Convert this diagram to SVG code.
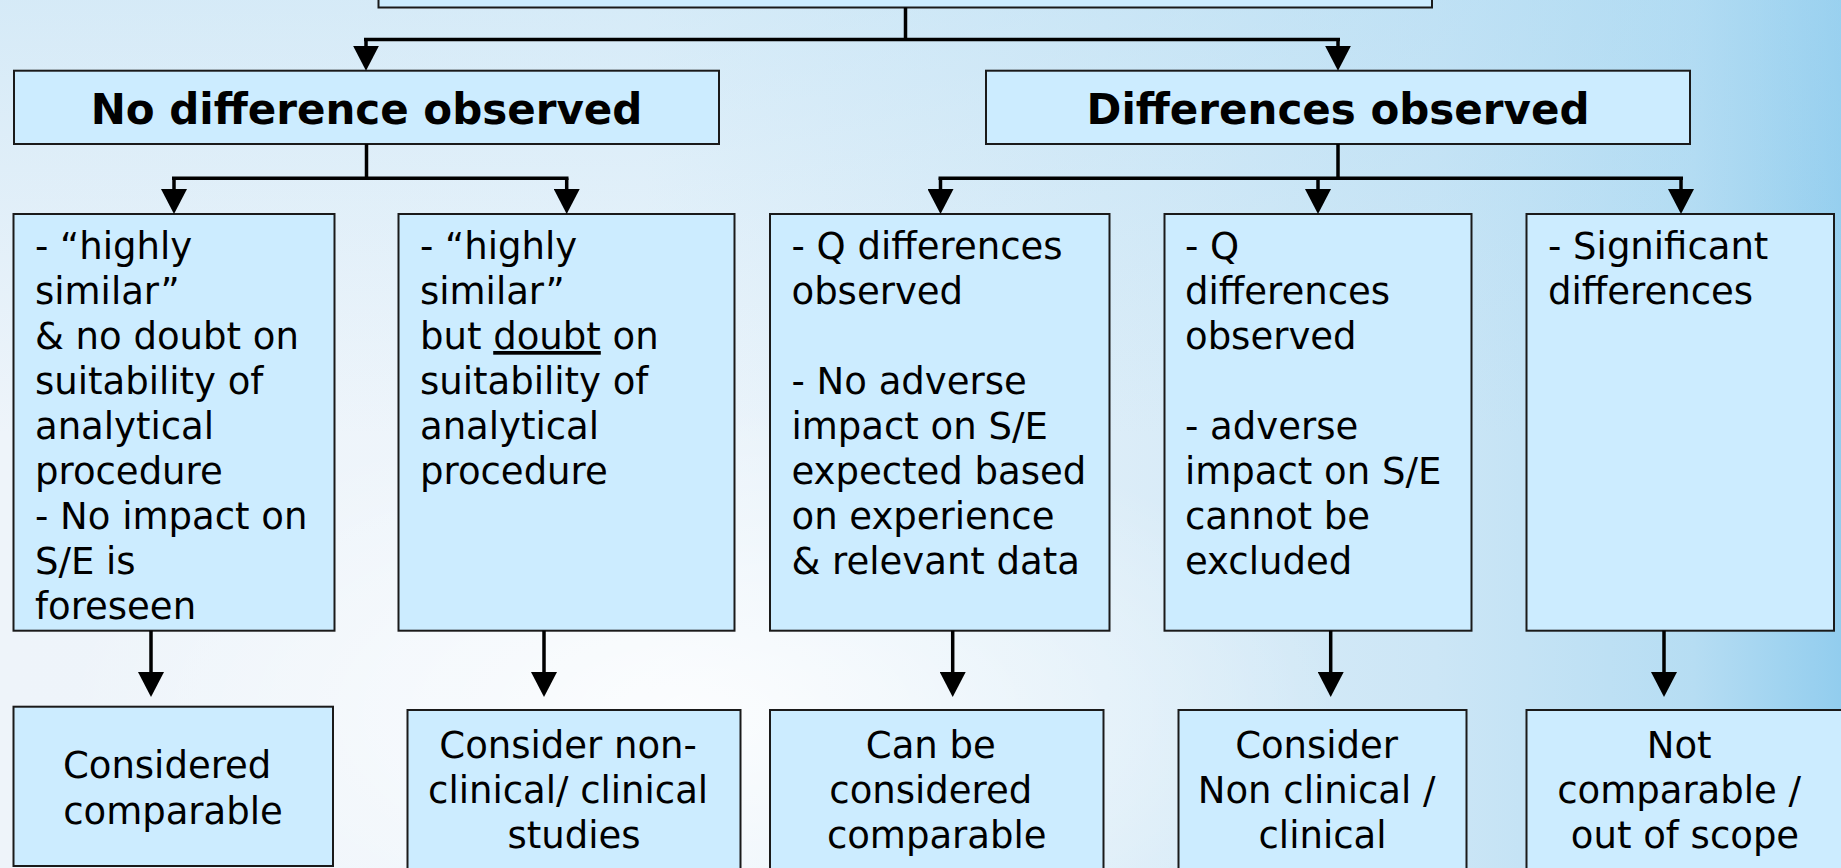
<svg xmlns="http://www.w3.org/2000/svg" width="1841" height="868" viewBox="0 0 1841 868">
  <defs>
    <linearGradient id="bg" x1="0" y1="0" x2="1" y2="0">
      <stop offset="0" stop-color="#eef4fa"/>
      <stop offset="0.35" stop-color="#eef5fb"/>
      <stop offset="0.6" stop-color="#dcedf8"/>
      <stop offset="0.78" stop-color="#cce6f6"/>
      <stop offset="0.92" stop-color="#b6ddf3"/>
      <stop offset="1" stop-color="#92cdee"/>
    </linearGradient>
    <radialGradient id="glow" cx="0.38" cy="0.82" r="0.35">
      <stop offset="0" stop-color="#ffffff" stop-opacity="0.8"/>
      <stop offset="1" stop-color="#ffffff" stop-opacity="0"/>
    </radialGradient>
    <linearGradient id="topTint" x1="0" y1="0" x2="0" y2="1">
      <stop offset="0" stop-color="#a8d8f2" stop-opacity="0.35"/>
      <stop offset="0.5" stop-color="#a8d8f2" stop-opacity="0"/>
    </linearGradient>
    <marker id="arrow" viewBox="0 0 25 26" refX="20" refY="13" markerWidth="25" markerHeight="26" markerUnits="userSpaceOnUse" orient="auto">
      <path d="M0,0 L25,13 L0,26 Z" fill="#000"/>
    </marker>
    <style>
      .box { fill: #ccecff; stroke: #1a1a1a; stroke-width: 2; }
      .head { font-family: "DejaVu Sans", Verdana, sans-serif; font-weight: bold; font-size: 42px; fill: #000; text-anchor: middle; }
      .body { font-family: "DejaVu Sans", Verdana, sans-serif; font-size: 37px; fill: #000; }
      .out { font-family: "DejaVu Sans", Verdana, sans-serif; font-size: 37px; fill: #000; text-anchor: middle; }
      .link { fill: none; stroke: #000; stroke-width: 3.5; }
      .arr { fill: none; stroke: #000; stroke-width: 3.5; marker-end: url(#arrow); }
      .ul { text-decoration: underline; }
    </style>
  </defs>

  <!-- background -->
  <rect x="0" y="0" width="1841" height="868" fill="url(#bg)"/>
  <rect x="0" y="0" width="1841" height="868" fill="url(#topTint)"/>
  <rect x="0" y="0" width="1841" height="868" fill="url(#glow)"/>

  <!-- root box (mostly above the top edge) -->
  <g id="root">
    <rect class="box" x="378.5" y="-60" width="1053.5" height="67.5"/>
  </g>

  <!-- level 1 -->
  <g id="no-difference">
    <rect class="box" x="14" y="70.7" width="705" height="73.3"/>
    <text class="head" x="366.5" y="124">No difference observed</text>
  </g>
  <g id="differences">
    <rect class="box" x="986" y="70.7" width="704" height="73.3"/>
    <text class="head" x="1338" y="124">Differences observed</text>
  </g>

  <!-- level 2 -->
  <g id="case-1">
    <rect class="box" x="13.5" y="214" width="321" height="416.7"/>
    <text class="body" x="35">
      <tspan x="35" y="259">- “highly</tspan>
      <tspan x="35" y="304">similar”</tspan>
      <tspan x="35" y="349">&amp; no doubt on</tspan>
      <tspan x="35" y="394">suitability of</tspan>
      <tspan x="35" y="439">analytical</tspan>
      <tspan x="35" y="484">procedure</tspan>
      <tspan x="35" y="529">- No impact on</tspan>
      <tspan x="35" y="574">S/E is</tspan>
      <tspan x="35" y="619">foreseen</tspan>
    </text>
  </g>
  <g id="case-2">
    <rect class="box" x="398.5" y="214" width="336" height="416.7"/>
    <text class="body" x="420">
      <tspan x="420" y="259">- “highly</tspan>
      <tspan x="420" y="304">similar”</tspan>
      <tspan x="420" y="349">but <tspan class="ul">doubt</tspan> on</tspan>
      <tspan x="420" y="394">suitability of</tspan>
      <tspan x="420" y="439">analytical</tspan>
      <tspan x="420" y="484">procedure</tspan>
    </text>
  </g>
  <g id="case-3">
    <rect class="box" x="770" y="214" width="339.5" height="416.7"/>
    <text class="body" x="791.5">
      <tspan x="791.5" y="259">- Q differences</tspan>
      <tspan x="791.5" y="304">observed</tspan>
      <tspan x="791.5" y="394">- No adverse</tspan>
      <tspan x="791.5" y="439">impact on S/E</tspan>
      <tspan x="791.5" y="484">expected based</tspan>
      <tspan x="791.5" y="529">on experience</tspan>
      <tspan x="791.5" y="574">&amp; relevant data</tspan>
    </text>
  </g>
  <g id="case-4">
    <rect class="box" x="1164.5" y="214" width="307" height="416.7"/>
    <text class="body" x="1185">
      <tspan x="1185" y="259">- Q</tspan>
      <tspan x="1185" y="304">differences</tspan>
      <tspan x="1185" y="349">observed</tspan>
      <tspan x="1185" y="439">- adverse</tspan>
      <tspan x="1185" y="484">impact on S/E</tspan>
      <tspan x="1185" y="529">cannot be</tspan>
      <tspan x="1185" y="574">excluded</tspan>
    </text>
  </g>
  <g id="case-5">
    <rect class="box" x="1526.5" y="214" width="307.5" height="416.7"/>
    <text class="body" x="1548">
      <tspan x="1548" y="259">- Significant</tspan>
      <tspan x="1548" y="304">differences</tspan>
    </text>
  </g>

  <!-- outcomes -->
  <g id="outcome-1">
    <rect class="box" x="13.5" y="706.7" width="319.5" height="159.3"/>
    <text class="out">
      <tspan x="173" y="778">Considered</tspan>
      <tspan x="173" y="824">comparable</tspan>
    </text>
  </g>
  <g id="outcome-2">
    <rect class="box" x="407.5" y="710" width="333" height="200"/>
    <text class="out">
      <tspan x="574" y="757.5">Consider non-</tspan>
      <tspan x="574" y="802.5">clinical/ clinical</tspan>
      <tspan x="574" y="847.5">studies</tspan>
    </text>
  </g>
  <g id="outcome-3">
    <rect class="box" x="770" y="710" width="333.5" height="200"/>
    <text class="out">
      <tspan x="936.7" y="757.5">Can be</tspan>
      <tspan x="936.7" y="802.5">considered</tspan>
      <tspan x="936.7" y="847.5">comparable</tspan>
    </text>
  </g>
  <g id="outcome-4">
    <rect class="box" x="1178.5" y="710" width="288" height="200"/>
    <text class="out">
      <tspan x="1322.5" y="757.5">Consider</tspan>
      <tspan x="1322.5" y="802.5">Non clinical /</tspan>
      <tspan x="1322.5" y="847.5">clinical</tspan>
    </text>
  </g>
  <g id="outcome-5">
    <rect class="box" x="1526.5" y="710" width="317" height="200"/>
    <text class="out">
      <tspan x="1685" y="757.5">Not</tspan>
      <tspan x="1685" y="802.5">comparable /</tspan>
      <tspan x="1685" y="847.5">out of scope</tspan>
    </text>
  </g>

  <!-- connectors -->
  <g id="connectors">
    <path class="link" d="M905.5,7.5 V39.5 M364,39.5 H1340"/>
    <path class="arr" d="M366,39.5 V65.7"/>
    <path class="arr" d="M1338,39.5 V65.7"/>

    <path class="link" d="M366.5,144 V178.3 M172,178.3 H568.5"/>
    <path class="arr" d="M174,178.3 V209"/>
    <path class="arr" d="M566.7,178.3 V209"/>

    <path class="link" d="M1338,144 V178.3 M938.5,178.3 H1683"/>
    <path class="arr" d="M940.5,178.3 V209"/>
    <path class="arr" d="M1318,178.3 V209"/>
    <path class="arr" d="M1681,178.3 V209"/>

    <path class="arr" d="M151,630.7 V692"/>
    <path class="arr" d="M544,630.7 V692"/>
    <path class="arr" d="M952.7,630.7 V692"/>
    <path class="arr" d="M1330.7,630.7 V692"/>
    <path class="arr" d="M1664,630.7 V692"/>
  </g>
</svg>
